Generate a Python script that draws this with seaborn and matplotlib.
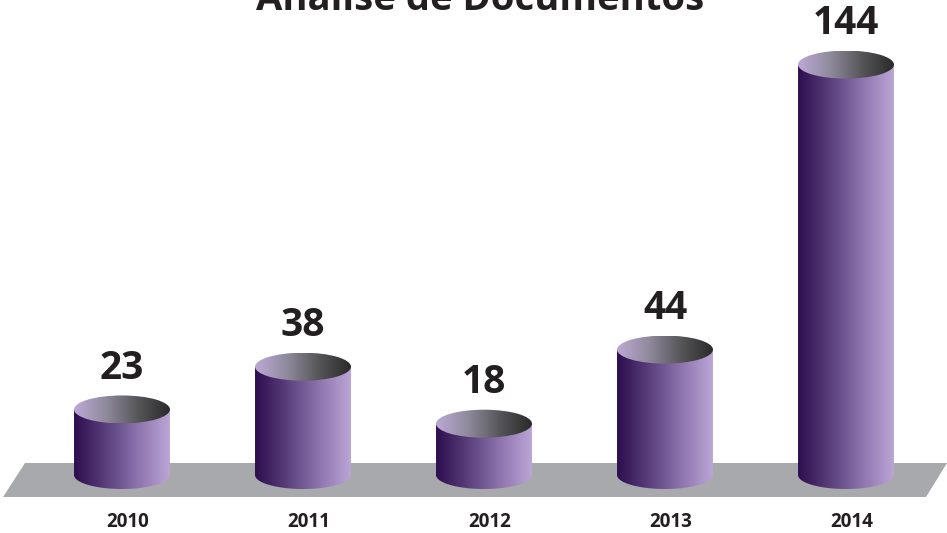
import numpy as np
import pandas as pd
import matplotlib
matplotlib.use("Agg")
import matplotlib.pyplot as plt
import seaborn as sns
from matplotlib.path import Path
from matplotlib.patches import PathPatch, Ellipse, Polygon
from matplotlib.colors import LinearSegmentedColormap

years = ["2010", "2011", "2012", "2013", "2014"]
values = [23, 38, 18, 44, 144]
title = "Análise de Documentos"

sns.set_theme(style="white")
plt.rcParams["font.family"] = ["Open Sans", "DejaVu Sans"]

W, H = 947, 533
fig = plt.figure(figsize=(W / 100, H / 100), dpi=100)
ax = fig.add_axes([0, 0, 1, 1])

df = pd.DataFrame({"year": years, "value": values})
sns.barplot(data=df, x="year", y="value", ax=ax, width=0.53, color="#6a5287")

px_per_unit = 2.85
x0_px, step_px = 122, 181
base_px = 58
xlim = (-x0_px / step_px, (W - x0_px) / step_px)
ylim = (-base_px / px_per_unit, (H - base_px) / px_per_unit)
ax.axis("off")

# floor (decorative) in axes coords
floor = Polygon([(3 / W, 36 / H), (926 / W, 36 / H), (947 / W, 70 / H), (25 / W, 70 / H)],
                closed=True, transform=ax.transAxes, facecolor="#a7a9ac", edgecolor="none", zorder=1)
ax.add_patch(floor)

body_cmap = LinearSegmentedColormap.from_list("body", ["#2d0d4e", "#5a3f7c", "#8d74ad", "#bba5d6"])
top_cmap = LinearSegmentedColormap.from_list("top", ["#bda9d6", "#8f8a9c", "#565659", "#2a2a2a"])
grad = np.linspace(0, 1, 256).reshape(1, -1)

eh = 14 / px_per_unit  # ellipse half height in data units

for patch, v, yr in zip(list(ax.patches), values, years):
    patch.set_visible(False)
    x0 = patch.get_x()
    w = patch.get_width()
    cx = x0 + w / 2
    h = patch.get_height()
    # body path: rectangle + bottom half ellipse
    t = np.linspace(0, np.pi, 60)
    arc_x = cx + (w / 2) * np.cos(t)
    arc_y = -eh * np.sin(t)
    verts = [(x0, h), (x0 + w, h), (x0 + w, 0)] + list(zip(arc_x[1:], arc_y[1:])) + [(x0, h)]
    codes = [Path.MOVETO] + [Path.LINETO] * (len(verts) - 2) + [Path.CLOSEPOLY]
    body = PathPatch(Path(verts, codes), facecolor="none", edgecolor="none", transform=ax.transData)
    ax.add_patch(body)
    im = ax.imshow(grad, cmap=body_cmap, aspect="auto", extent=[x0, x0 + w, -eh, h],
                   zorder=2, interpolation="bilinear")
    im.set_clip_path(body)
    # top ellipse
    top = Ellipse((cx, h), w, 2 * eh, facecolor="none", edgecolor="none", transform=ax.transData)
    ax.add_patch(top)
    im2 = ax.imshow(grad, cmap=top_cmap, aspect="auto", extent=[x0, x0 + w, h - eh, h + eh],
                    zorder=3, interpolation="bilinear")
    im2.set_clip_path(top)
    # value label
    ax.text(cx, h + 41 / px_per_unit, str(v), ha="center", va="center", fontsize=28,
            fontweight="bold", color="#231f20", zorder=5)
    # year label
    ax.text(cx + 0.03, (11 - base_px) / px_per_unit, yr, ha="center", va="center",
            fontsize=13.5, fontweight="bold", color="#231f20", zorder=5)

ax.set_xlim(*xlim)
ax.set_ylim(*ylim)

fig.text(0.507, (H - 10) / H, title, ha="center", va="baseline", fontsize=27.5,
         fontweight="bold", color="#231f20")

fig.savefig("out.png", dpi=100)
